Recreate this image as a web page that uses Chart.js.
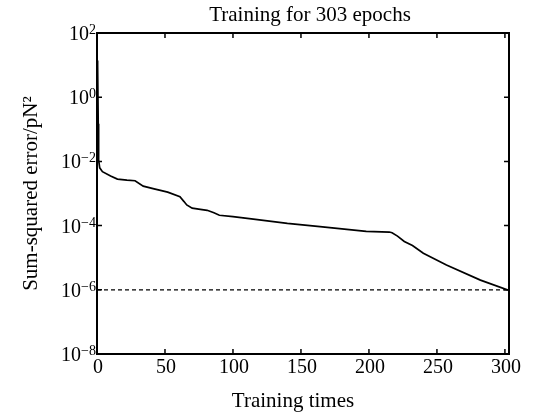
<!DOCTYPE html>
<html>
<head>
<meta charset="utf-8">
<script src="https://cdn.jsdelivr.net/npm/chart.js@4.4.0/dist/chart.umd.min.js"></script>
<style>
  html, body { margin: 0; padding: 0; background: #fff; }
  #wrap { width: 535px; height: 414px; }
</style>
</head>
<body>
<div id="wrap"><canvas id="errChart" width="535" height="414"></canvas></div>
<script>
// training curve (epoch, sum-squared error)
const epochs = [0, 0.3, 0.6, 0.9, 1.2, 2, 4, 10, 15, 22, 28, 34, 42, 52, 61, 64, 66, 70, 76, 81, 86, 90,
                100, 115, 140, 164, 198, 215, 217, 221, 226, 232, 240, 257, 282, 303];
const sse = [14, 0.2, 10, 0.15, 0.011, 0.0063, 0.0048, 0.0035, 0.0028, 0.0026, 0.0025, 0.0017, 0.0014,
             0.0011, 0.00079, 0.00056, 0.00044, 0.00035, 0.00032, 0.0003, 0.00025, 0.00021,
             0.00019, 0.00016, 0.000117, 0.000093, 0.000066, 0.000063, 0.00006, 0.000047,
             0.000032, 0.000024, 0.0000138, 0.0000059, 0.000002, 0.00000095];
const goalError = 1e-6;

const xTicks = [0, 50, 100, 150, 200, 250, 300];
const yTicks = [1e-8, 1e-6, 1e-4, 1e-2, 1, 1e2];

const SERIF = '"Liberation Serif", "Times New Roman", serif';

// MATLAB-ish box with inward ticks, labels and titles
const frame = {
    id: 'frame',
    afterDraw(chart) {
        const { ctx, chartArea: a, scales: { x, y } } = chart;
        ctx.save();
        ctx.strokeStyle = '#000';
        ctx.fillStyle = '#000';

        ctx.lineWidth = 1.5;
        ctx.beginPath();
        x.ticks.forEach(t => {
            const px = x.getPixelForValue(t.value);
            ctx.moveTo(px, a.bottom); ctx.lineTo(px, a.bottom - 5);
            ctx.moveTo(px, a.top); ctx.lineTo(px, a.top + 5);
        });
        y.ticks.forEach(t => {
            const py = y.getPixelForValue(t.value);
            ctx.moveTo(a.left, py); ctx.lineTo(a.left + 5, py);
            ctx.moveTo(a.right, py); ctx.lineTo(a.right - 5, py);
        });
        ctx.stroke();

        ctx.lineWidth = 2;
        ctx.strokeRect(a.left, a.top, a.right - a.left, a.bottom - a.top);

        // x tick labels
        ctx.font = '20px ' + SERIF;
        ctx.textAlign = 'center';
        ctx.textBaseline = 'alphabetic';
        x.ticks.forEach(t => ctx.fillText(String(t.value), x.getPixelForValue(t.value) + 1, a.bottom + 19));

        // y tick labels: 10 with superscript exponent
        y.ticks.forEach(t => {
            const py = y.getPixelForValue(t.value);
            const exp = String(Math.round(Math.log10(t.value))).replace('-', '\u2212');
            ctx.textAlign = 'right';
            ctx.font = '14px ' + SERIF;
            const w = ctx.measureText(exp).width;
            ctx.fillText(exp, a.left - 1, py + 1);
            ctx.font = '20px ' + SERIF;
            ctx.fillText('10', a.left - 1 - w, py + 7);
        });

        // titles
        ctx.textAlign = 'center';
        ctx.font = '21px ' + SERIF;
        ctx.fillText('Training for 303 epochs', 310, 21);
        ctx.fillText('Training times', 293, 407);

        ctx.translate(37, (a.top + a.bottom) / 2);
        ctx.rotate(-Math.PI / 2);
        ctx.fillText('Sum-squared error/pN\u00B2', 0, 0);
        ctx.restore();
    }
};

new Chart(document.getElementById('errChart'), {
    type: 'line',
    data: {
        datasets: [
            {
                label: 'Performance',
                data: epochs.map((e, i) => ({ x: e, y: sse[i] })),
                borderColor: '#000',
                borderWidth: 1.7,
                pointRadius: 0,
                tension: 0,
                fill: false
            },
            {
                label: 'Goal',
                data: [{ x: 0, y: goalError }, { x: 303, y: goalError }],
                borderColor: '#000',
                borderWidth: 1.2,
                borderDash: [4, 3],
                pointRadius: 0,
                fill: false
            }
        ]
    },
    options: {
        responsive: false,
        animation: false,
        devicePixelRatio: 1,
        layout: { padding: { left: 0, top: 33, right: 26, bottom: 0 } },
        plugins: { legend: { display: false }, tooltip: { enabled: false }, title: { display: false } },
        scales: {
            x: {
                type: 'linear',
                min: 0,
                max: 303,
                grid: { display: false },
                border: { display: false },
                ticks: { display: false },
                afterBuildTicks: s => { s.ticks = xTicks.map(v => ({ value: v })); },
                afterFit: s => { s.height = 60; }
            },
            y: {
                type: 'logarithmic',
                min: 1e-8,
                max: 1e2,
                grid: { display: false },
                border: { display: false },
                ticks: { display: false },
                afterBuildTicks: s => { s.ticks = yTicks.map(v => ({ value: v })); },
                afterFit: s => { s.width = 97; }
            }
        }
    },
    plugins: [frame]
});
</script>
</body>
</html>
